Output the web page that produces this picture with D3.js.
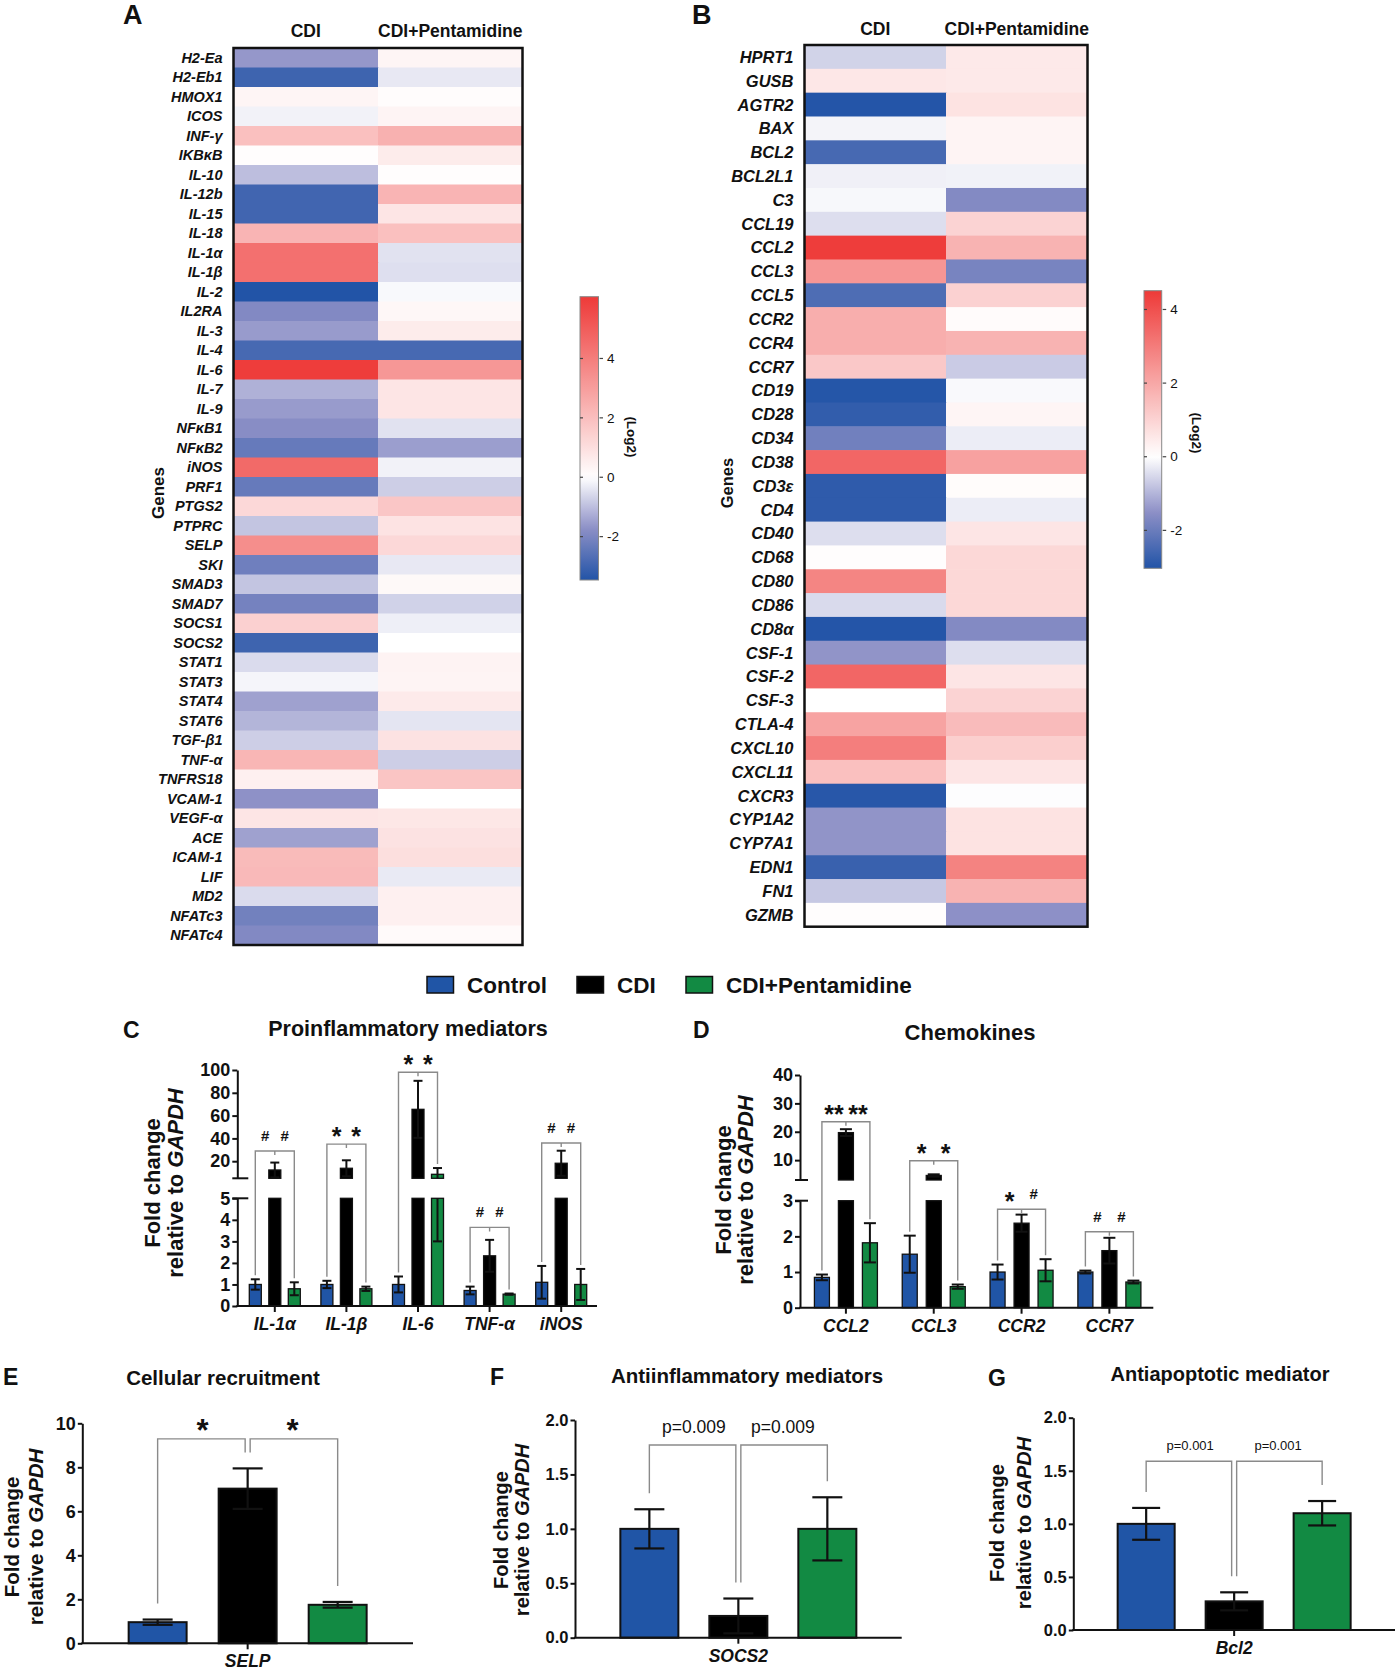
<!DOCTYPE html>
<html lang="en">
<head>
<meta charset="UTF-8">
<title>Heatmaps and qPCR panels</title>
<script src="https://cdn.jsdelivr.net/npm/d3@7"></script>
<style>
    body { margin: 0; background: #fff; }
    svg { font-family: "Liberation Sans", Arial, Helvetica, sans-serif; }
</style>
</head>
<body>
<script type="text/javascript">
    var width = 1397;
    var height = 1670;

    // ---------- data: heatmap A (log2 fold change) ----------
    var columns = ['CDI', 'CDI+Pentamidine'];
    var genesA = ['H2-Ea', 'H2-Eb1', 'HMOX1', 'ICOS', 'INF-γ', 'IKBκB', 'IL-10', 'IL-12b', 'IL-15', 'IL-18',
        'IL-1α', 'IL-1β', 'IL-2', 'IL2RA', 'IL-3', 'IL-4', 'IL-6', 'IL-7', 'IL-9', 'NFκB1', 'NFκB2', 'iNOS',
        'PRF1', 'PTGS2', 'PTPRC', 'SELP', 'SKI', 'SMAD3', 'SMAD7', 'SOCS1', 'SOCS2', 'STAT1', 'STAT3', 'STAT4',
        'STAT6', 'TGF-β1', 'TNF-α', 'TNFRS18', 'VCAM-1', 'VEGF-α', 'ACE', 'ICAM-1', 'LIF', 'MD2', 'NFATc3', 'NFATc4'];
    var cdiA = [-1.6, -3.0, 0.3, -0.2, 1.95, 0.05, -1.0, -2.95, -2.95, 2.3,
        4.4, 4.4, -3.46, -1.9, -1.55, -2.85, 6.0, -1.2, -1.55, -1.8, -2.35, 4.6,
        -2.35, 1.2, -0.9, 3.5, -2.2, -0.9, -2.1, 1.45, -3.0, -0.55, -0.15, -1.45,
        -1.15, -0.75, 2.25, 0.45, -1.7, 0.8, -1.45, 2.1, 2.15, -0.55, -2.15, -1.9];
    var pentA = [0.3, -0.35, 0.1, 0.35, 2.4, 0.6, 0.05, 2.3, 0.8, 1.95,
        -0.45, -0.5, -0.1, 0.25, 0.6, -2.85, 3.2, 0.8, 0.8, -0.45, -1.5, -0.2,
        -0.75, 1.75, 0.85, 1.2, -0.35, 0.2, -0.7, -0.25, 0, 0.38, 0.35, 0.65,
        -0.4, 0.9, -0.75, 1.8, 0, 0.75, 0.9, 1.0, -0.33, 0.45, 0.45, 0.15];
    var rangeA = [-3.46, 6.08];

    // ---------- data: heatmap B ----------
    var genesB = ['HPRT1', 'GUSB', 'AGTR2', 'BAX', 'BCL2', 'BCL2L1', 'C3', 'CCL19', 'CCL2', 'CCL3', 'CCL5',
        'CCR2', 'CCR4', 'CCR7', 'CD19', 'CD28', 'CD34', 'CD38', 'CD3ε', 'CD4', 'CD40', 'CD68', 'CD80', 'CD86',
        'CD8α', 'CSF-1', 'CSF-2', 'CSF-3', 'CTLA-4', 'CXCL10', 'CXCL11', 'CXCR3', 'CYP1A2', 'CYP7A1', 'EDN1',
        'FN1', 'GZMB'];
    var cdiB = [-0.6, 0.55, -3.0, -0.15, -2.5, -0.2, -0.1, -0.45, 4.45, 2.4,
        -2.4, 1.85, 1.85, 1.25, -2.98, -2.8, -1.9, 3.5, -2.85, -2.85,
        -0.45, 0.05, 2.8, -0.5, -3.0, -1.45, 3.5, 0, 2.1, 2.95,
        1.45, -2.95, -1.45, -1.45, -2.7, -0.75, 0.05];
    var pentB = [0.5, 0.5, 0.65, 0.25, 0.25, -0.18, -1.65, 1.0, 1.75, -1.8,
        1.05, 0.1, 1.75, -0.7, -0.08, 0.22, -0.25, 2.15, 0.08, -0.25,
        0.6, 0.9, 0.9, 0.9, -1.65, -0.45, 0.6, 1.0, 1.55, 1.1,
        0.6, -0.03, 0.65, 0.65, 2.85, 1.75, -1.5];
    var rangeB = [-3.03, 4.51];
    var colorbarTicks = [-2, 0, 2, 4];

    // ---------- data: qPCR bar panels (mean, SD) ----------
    var groups = ['Control', 'CDI', 'CDI+Pentamidine'];

    var genesC = ['IL-1α', 'IL-1β', 'IL-6', 'TNF-α', 'iNOS'];
    var controlC = [1.0, 1.0, 1.0, 0.72, 1.1];
    var controlSdC = [0.24, 0.17, 0.37, 0.18, 0.76];
    var cdiC = [12.3, 13.8, 65.5, 2.33, 18.2];
    var cdiSdC = [6.5, 7.0, 25, 0.74, 11];
    var pentC = [0.8, 0.8, 8.5, 0.55, 1.0];
    var pentSdC = [0.3, 0.1, 5.5, 0.03, 0.72];
    var signifC = [['#', '#'], ['*', '*'], ['*', '*'], ['#', '#'], ['#', '#']];
    var bracketC = [29, 35, 98, 3.65, 36];
    var ticksLowC = [0, 1, 2, 3, 4, 5];
    var ticksHighC = [20, 40, 60, 80, 100];

    var genesD = ['CCL2', 'CCL3', 'CCR2', 'CCR7'];
    var controlD = [0.85, 1.5, 1.0, 1.0];
    var controlSdD = [0.08, 0.52, 0.21, 0.04];
    var cdiD = [19.7, 4.6, 2.37, 1.6];
    var cdiSdD = [1.2, 0.4, 0.24, 0.36];
    var pentD = [1.82, 0.59, 1.05, 0.72];
    var pentSdD = [0.55, 0.06, 0.31, 0.04];
    var signifD = [['**', '**'], ['*', '*'], ['*', '#'], ['#', '#']];
    var bracketD = [23.5, 9.8, 2.76, 2.13];
    var ticksLowD = [0, 1, 2, 3];
    var ticksHighD = [10, 20, 30, 40];

    var genesE = ['SELP'];
    var meansE = [0.96, 7.03, 1.75];
    var sdsE = [0.12, 0.92, 0.13];
    var ticksE = [0, 2, 4, 6, 8, 10];

    var genesF = ['SOCS2'];
    var meansF = [1.0, 0.2, 1.0];
    var sdsF = [0.18, 0.16, 0.29];
    var pF = ['p=0.009', 'p=0.009'];

    var genesG = ['Bcl2'];
    var meansG = [1.0, 0.27, 1.1];
    var sdsG = [0.15, 0.085, 0.115];
    var pG = ['p=0.001', 'p=0.001'];
    var ticksFG = [0, 0.5, 1, 1.5, 2];

    var groupColors = ['#2055a6', '#000000', '#128a43'];

    var svg = d3.select('body').append('svg')
        .attr('width', width)
        .attr('height', height);

    function label(x, y, txt, size, opts) {
        opts = opts || {};
        return svg.append('text')
            .attr('x', x).attr('y', y)
            .attr('font-size', size)
            .attr('font-weight', opts.weight || 'bold')
            .attr('font-style', opts.style || 'normal')
            .attr('text-anchor', opts.anchor || 'start')
            .attr('fill', '#111')
            .text(txt);
    }

    // ---------- heatmaps ----------
    function heatmap(o) {
        var g = svg.append('g');
        var x = d3.scaleBand().domain(columns).range([o.x0, o.x1]);
        var y = d3.scaleBand().domain(o.genes).range([o.y0, o.y1]);
        var color = d3.scaleLinear()
            .domain([o.range[0], o.range[0] / 2, 0, o.range[1]])
            .range(['#2254a7', '#8c8fc6', '#ffffff', '#ee3a38']);
        var cells = [];
        o.genes.forEach(function (gene, i) {
            cells.push({gene: gene, col: columns[0], v: o.cdi[i]});
            cells.push({gene: gene, col: columns[1], v: o.pent[i]});
        });
        g.selectAll('rect.cell')
            .data(cells)
            .enter()
            .append('rect')
            .attr('class', 'cell')
            .attr('x', function (d) { return x(d.col); })
            .attr('y', function (d) { return y(d.gene); })
            .attr('width', x.bandwidth() + 0.6)
            .attr('height', y.bandwidth() + 0.6)
            .attr('fill', function (d) { return color(d.v); });
        g.append('rect')
            .attr('x', o.x0).attr('y', o.y0)
            .attr('width', o.x1 - o.x0).attr('height', o.y1 - o.y0)
            .attr('fill', 'none').attr('stroke', '#111').attr('stroke-width', 2.5);

        g.selectAll('text.gene')
            .data(o.genes)
            .enter()
            .append('text')
            .attr('x', o.x0 - 11)
            .attr('y', function (d) { return y(d) + y.bandwidth() / 2; })
            .attr('dy', '0.36em')
            .attr('text-anchor', 'end')
            .attr('font-size', o.labelSize)
            .attr('font-weight', 'bold')
            .attr('font-style', 'italic')
            .attr('fill', '#111')
            .text(function (d) { return d; });

        columns.forEach(function (c) {
            label(x(c) + x.bandwidth() / 2, o.headY, c, 17.5, {anchor: 'middle'});
        });
        svg.append('text')
            .attr('transform', 'translate(' + o.genesX + ',' + o.genesY + ') rotate(-90)')
            .attr('text-anchor', 'middle')
            .attr('font-size', o.genesSize)
            .attr('font-weight', 'bold')
            .attr('fill', '#111')
            .text('Genes');

        // colour bar
        var cb = o.cbar;
        var yc = d3.scaleLinear().domain(o.range).range([cb.y1, cb.y0]);
        var gradId = 'grad' + o.id;
        var grad = svg.append('defs').append('linearGradient')
            .attr('id', gradId)
            .attr('x1', 0).attr('y1', 1).attr('x2', 0).attr('y2', 0);
        d3.range(0, 41).forEach(function (k) {
            var v = o.range[0] + (o.range[1] - o.range[0]) * k / 40;
            grad.append('stop').attr('offset', (k / 40 * 100) + '%').attr('stop-color', color(v));
        });
        g.append('rect')
            .attr('x', cb.x).attr('y', cb.y0)
            .attr('width', cb.w).attr('height', cb.y1 - cb.y0)
            .attr('fill', 'url(#' + gradId + ')')
            .attr('stroke', '#888').attr('stroke-width', 1);
        colorbarTicks.forEach(function (t) {
            g.append('line')
                .attr('x1', cb.x).attr('x2', cb.x + 3)
                .attr('y1', yc(t)).attr('y2', yc(t))
                .attr('stroke', '#444').attr('stroke-width', 1.2);
            g.append('line')
                .attr('x1', cb.x + cb.w + 1).attr('x2', cb.x + cb.w + 4.5)
                .attr('y1', yc(t)).attr('y2', yc(t))
                .attr('stroke', '#444').attr('stroke-width', 1.2);
            g.append('text')
                .attr('x', cb.x + cb.w + 8.5).attr('y', yc(t))
                .attr('dy', '0.35em')
                .attr('font-size', 13.5)
                .attr('fill', '#111')
                .text(t);
        });
        svg.append('text')
            .attr('transform', 'translate(' + cb.titleX + ',' + cb.titleY + ') rotate(90)')
            .attr('text-anchor', 'middle')
            .attr('font-size', 13.5)
            .attr('font-weight', 'bold')
            .attr('fill', '#111')
            .text('(Log2)');
    }

    heatmap({
        id: 'A', genes: genesA, cdi: cdiA, pent: pentA, range: rangeA,
        x0: 233.5, x1: 522.5, y0: 48, y1: 945, labelSize: 14.5, headY: 37,
        genesX: 164, genesY: 493, genesSize: 17,
        cbar: {x: 580, w: 18.5, y0: 296.7, y1: 580, titleX: 627, titleY: 437}
    });
    heatmap({
        id: 'B', genes: genesB, cdi: cdiB, pent: pentB, range: rangeB,
        x0: 804.5, x1: 1087.5, y0: 45, y1: 926.7, labelSize: 16.5, headY: 35,
        genesX: 733, genesY: 483, genesSize: 16.5,
        cbar: {x: 1144, w: 17.7, y0: 290.7, y1: 568.3, titleX: 1192, titleY: 433}
    });

    label(123, 24, 'A', 27);
    label(692, 24, 'B', 27);

    // ---------- legend ----------
    var legendX = [427, 577, 686];
    groups.forEach(function (grp, j) {
        svg.append('rect')
            .attr('x', legendX[j]).attr('y', 976.5)
            .attr('width', 26.5).attr('height', 16.5)
            .attr('fill', groupColors[j])
            .attr('stroke', '#111').attr('stroke-width', 1.5);
        label(legendX[j] + 40, 992.5, grp, 22.5);
    });

    // ---------- bar panels ----------
    function yTitle(cx1, cx2, cy, fs) {
        svg.append('text')
            .attr('transform', 'translate(' + (cx1 + fs * 0.36) + ',' + cy + ') rotate(-90)')
            .attr('text-anchor', 'middle').attr('font-size', fs).attr('font-weight', 'bold')
            .attr('fill', '#111')
            .text('Fold change');
        var t = svg.append('text')
            .attr('transform', 'translate(' + (cx2 + fs * 0.36) + ',' + cy + ') rotate(-90)')
            .attr('text-anchor', 'middle').attr('font-size', fs).attr('font-weight', 'bold')
            .attr('fill', '#111');
        t.append('tspan').text('relative to ');
        t.append('tspan').attr('font-style', 'italic').text('GAPDH');
    }

    function styleAxis(sel, fs) {
        sel.select('.domain').attr('stroke', '#111').attr('stroke-width', 2);
        sel.selectAll('.tick line').attr('stroke', '#111').attr('stroke-width', 2);
        sel.selectAll('.tick text')
            .attr('font-size', fs).attr('font-weight', 'bold').attr('fill', '#111')
            .attr('font-family', '"Liberation Sans", Arial, sans-serif');
    }

    function barPanel(p) {
        var g = svg.append('g');
        var x = d3.scaleBand().domain(p.genes).range([p.axisX + p.xOff, p.xEnd]);
        var xi = d3.scaleBand().domain(groups).range([-p.span / 2, p.span / 2]).paddingInner(p.pad);
        var yLow = d3.scaleLinear().domain(p.low.domain).range(p.low.range);
        var yHigh = p.high ? d3.scaleLinear().domain(p.high.domain).range(p.high.range) : null;
        var lowMax = p.low.domain[1];
        var y0 = yLow(0);

        function yv(v) {
            return (yHigh && v > lowMax) ? yHigh(v) : yLow(v);
        }
        function cx(gi, j) {
            return x(p.genes[gi]) + x.bandwidth() / 2 + xi(groups[j]) + xi.bandwidth() / 2;
        }

        var bars = [];
        p.genes.forEach(function (gene, i) {
            groups.forEach(function (grp, j) {
                bars.push({i: i, j: j, v: p.means[j][i], sd: p.sds[j][i]});
            });
        });

        var bw = xi.bandwidth();
        g.selectAll('rect.low')
            .data(bars)
            .enter()
            .append('rect')
            .attr('x', function (d) { return cx(d.i, d.j) - bw / 2; })
            .attr('y', function (d) { return yLow(Math.min(d.v, lowMax)); })
            .attr('width', bw)
            .attr('height', function (d) { return y0 - yLow(Math.min(d.v, lowMax)); })
            .attr('fill', function (d) { return groupColors[d.j]; })
            .attr('stroke', '#111')
            .attr('stroke-width', p.barStroke);
        if (yHigh) {
            g.selectAll('rect.high')
                .data(bars.filter(function (d) { return d.v > lowMax; }))
                .enter()
                .append('rect')
                .attr('x', function (d) { return cx(d.i, d.j) - bw / 2; })
                .attr('y', function (d) { return yHigh(d.v); })
                .attr('width', bw)
                .attr('height', function (d) { return yHigh(p.high.domain[0]) - yHigh(d.v); })
                .attr('fill', function (d) { return groupColors[d.j]; })
                .attr('stroke', '#111')
                .attr('stroke-width', p.barStroke);
        }

        // error bars (mean +/- SD), split across an axis break
        bars.forEach(function (d) {
            var lo = Math.max(d.v - d.sd, 0), hi = d.v + d.sd, xc = cx(d.i, d.j);
            var segs = [];
            if (!yHigh) {
                segs.push([yLow(lo), yLow(hi)]);
            } else {
                if (lo < lowMax) segs.push([yLow(lo), yLow(Math.min(hi, lowMax))]);
                if (hi > lowMax) segs.push([yHigh(Math.max(lo, p.high.domain[0])), yHigh(hi)]);
            }
            segs.forEach(function (s) {
                g.append('line').attr('x1', xc).attr('x2', xc).attr('y1', s[0]).attr('y2', s[1])
                    .attr('stroke', '#111').attr('stroke-width', p.errW);
            });
            [hi, lo].forEach(function (v) {
                if (v <= 0) return;
                g.append('line')
                    .attr('x1', xc - p.cap / 2).attr('x2', xc + p.cap / 2)
                    .attr('y1', yv(v)).attr('y2', yv(v))
                    .attr('stroke', '#111').attr('stroke-width', p.errW);
            });
        });

        // axes
        var axLow = g.append('g')
            .attr('transform', 'translate(' + p.axisX + ',0)')
            .call(d3.axisLeft(yLow).tickValues(p.low.ticks).tickSize(p.tick).tickPadding(2)
                .tickSizeOuter(0).tickFormat(p.fmt || d3.format('d')));
        styleAxis(axLow, p.tickFs);
        if (yHigh) {
            var axHigh = g.append('g')
                .attr('transform', 'translate(' + p.axisX + ',0)')
                .call(d3.axisLeft(yHigh).tickValues(p.high.ticks).tickSize(p.tick).tickPadding(2)
                    .tickSizeOuter(0).tickFormat(d3.format('d')));
            styleAxis(axHigh, p.tickFs);
            [yHigh(p.high.domain[0]), yLow(lowMax)].forEach(function (yy) {
                g.append('line')
                    .attr('x1', p.axisX - p.tick).attr('x2', p.axisX + p.brk)
                    .attr('y1', yy).attr('y2', yy)
                    .attr('stroke', '#111').attr('stroke-width', 2);
            });
        }
        g.append('line')
            .attr('x1', p.axisX - 1).attr('x2', p.xEnd)
            .attr('y1', y0).attr('y2', y0)
            .attr('stroke', '#111').attr('stroke-width', 2);
        p.genes.forEach(function (gene) {
            var xc = x(gene) + x.bandwidth() / 2;
            g.append('line')
                .attr('x1', xc).attr('x2', xc).attr('y1', y0).attr('y2', y0 + 6)
                .attr('stroke', '#111').attr('stroke-width', 2);
            g.append('text')
                .attr('x', xc).attr('y', y0 + 24)
                .attr('text-anchor', 'middle')
                .attr('font-size', 17.5).attr('font-weight', 'bold').attr('font-style', 'italic')
                .attr('fill', '#111')
                .text(gene);
        });

        // significance brackets
        p.genes.forEach(function (gene, i) {
            var xa = cx(i, 0), xb = cx(i, 1), xcn = cx(i, 2);
            var top = yv(p.bracket[i]);
            var legA = yv(p.means[0][i] + p.sds[0][i]) - p.gap;
            var legB = yv(p.means[1][i] + p.sds[1][i]) - p.gap;
            var legC = yv(p.means[2][i] + p.sds[2][i]) - p.gap;
            var path;
            if (p.single) {
                path = 'M' + xa + ',' + legA + 'V' + top + 'H' + xcn + 'V' + legC +
                    'M' + xb + ',' + top + 'v4';
            } else {
                path = 'M' + xa + ',' + legA + 'V' + top + 'H' + (xb - 2.5) + 'V' + legB +
                    'M' + (xb + 2.5) + ',' + legB + 'V' + top + 'H' + xcn + 'V' + legC;
            }
            g.append('path').attr('d', path)
                .attr('fill', 'none').attr('stroke', '#8a8a8a').attr('stroke-width', 1.4);
            [[(xa + xb) / 2, p.marks[i][0]], [(xb + xcn) / 2, p.marks[i][1]]].forEach(function (m) {
                var isStar = m[1].indexOf('*') >= 0;
                var isHash = m[1] === '#';
                g.append('text')
                    .attr('x', m[0])
                    .attr('y', top - (isStar ? p.starOff : isHash ? p.hashOff : p.textOff))
                    .attr('text-anchor', 'middle')
                    .attr('font-size', isStar ? p.starFs : isHash ? p.hashFs : p.textFs)
                    .attr('font-weight', isStar || isHash ? 'bold' : 'normal')
                    .attr('fill', '#111')
                    .text(m[1]);
            });
        });
    }

    // C
    barPanel({
        genes: genesC, means: [controlC, cdiC, pentC], sds: [controlSdC, cdiSdC, pentSdC],
        marks: signifC, bracket: bracketC, single: true,
        axisX: 237.3, xOff: 1.7, xEnd: 597, span: 51, pad: 0.385,
        low: {domain: [0, 5], range: [1306, 1198.3], ticks: ticksLowC},
        high: {domain: [5, 100], range: [1178.3, 1070], ticks: ticksHighC},
        tick: 5, brk: 11, tickFs: 18, barStroke: 1.3, errW: 2, cap: 9, gap: 4,
        starFs: 25, starOff: -1, hashFs: 15, hashOff: 10, textFs: 14, textOff: 8
    });
    label(123, 1038, 'C', 23);
    label(408, 1036, 'Proinflammatory mediators', 21.5, {anchor: 'middle'});
    yTitle(151.7, 175, 1183, 22);

    // D
    barPanel({
        genes: genesD, means: [controlD, cdiD, pentD], sds: [controlSdD, cdiSdD, pentSdD],
        marks: signifD, bracket: bracketD, single: true,
        axisX: 800, xOff: 2, xEnd: 1153.3, span: 63, pad: 0.375,
        low: {domain: [0, 3], range: [1307.7, 1200.7], ticks: ticksLowD},
        high: {domain: [3, 40], range: [1180, 1075], ticks: ticksHighD},
        tick: 5, brk: 8, tickFs: 18, barStroke: 1.3, errW: 2, cap: 12, gap: 4,
        starFs: 25, starOff: -1, hashFs: 15, hashOff: 10, textFs: 14, textOff: 8
    });
    label(693, 1038, 'D', 23);
    label(970, 1040, 'Chemokines', 22, {anchor: 'middle'});
    yTitle(723.3, 745, 1190, 22);

    // E
    barPanel({
        genes: genesE, means: [[meansE[0]], [meansE[1]], [meansE[2]]], sds: [[sdsE[0]], [sdsE[1]], [sdsE[2]]],
        marks: [['*', '*']], bracket: [9.29], single: false,
        axisX: 82.3, xOff: 0, xEnd: 413, span: 238, pad: 0.356,
        low: {domain: [0, 10], range: [1643.3, 1423.3], ticks: ticksE},
        tick: 4.5, tickFs: 18, barStroke: 2, errW: 2.2, cap: 30, gap: 16,
        starFs: 31, starOff: -2, hashFs: 15, hashOff: 10, textFs: 14, textOff: 8
    });
    label(3, 1385, 'E', 23);
    label(223, 1385, 'Cellular recruitment', 20.5, {anchor: 'middle'});
    yTitle(11.7, 35.7, 1537, 20.5);

    // F
    barPanel({
        genes: genesF, means: [[meansF[0]], [meansF[1]], [meansF[2]]], sds: [[sdsF[0]], [sdsF[1]], [sdsF[2]]],
        marks: [pF], bracket: [1.77], single: false,
        axisX: 575, xOff: 0, xEnd: 901.7, span: 236, pad: 0.348,
        low: {domain: [0, 2], range: [1637.7, 1420], ticks: ticksFG}, fmt: d3.format('.1f'),
        tick: 4.5, tickFs: 16.5, barStroke: 2, errW: 2.2, cap: 30, gap: 16,
        starFs: 31, starOff: -2, hashFs: 15, hashOff: 10, textFs: 17.5, textOff: 12
    });
    label(490, 1385, 'F', 23);
    label(747, 1383, 'Antiinflammatory mediators', 20.5, {anchor: 'middle'});
    yTitle(501, 522, 1530, 20);

    // G
    barPanel({
        genes: genesG, means: [[meansG[0]], [meansG[1]], [meansG[2]]], sds: [[sdsG[0]], [sdsG[1]], [sdsG[2]]],
        marks: [pG], bracket: [1.59], single: false,
        axisX: 1073.3, xOff: 0, xEnd: 1395, span: 233, pad: 0.352,
        low: {domain: [0, 2], range: [1630, 1417.7], ticks: ticksFG}, fmt: d3.format('.1f'),
        tick: 4.5, tickFs: 16.5, barStroke: 2, errW: 2.2, cap: 28, gap: 16,
        starFs: 31, starOff: -2, hashFs: 15, hashOff: 10, textFs: 13, textOff: 11
    });
    label(988, 1386, 'G', 23);
    label(1220, 1381, 'Antiapoptotic mediator', 20, {anchor: 'middle'});
    yTitle(996.7, 1023.3, 1523, 20);
</script>
</body>
</html>
